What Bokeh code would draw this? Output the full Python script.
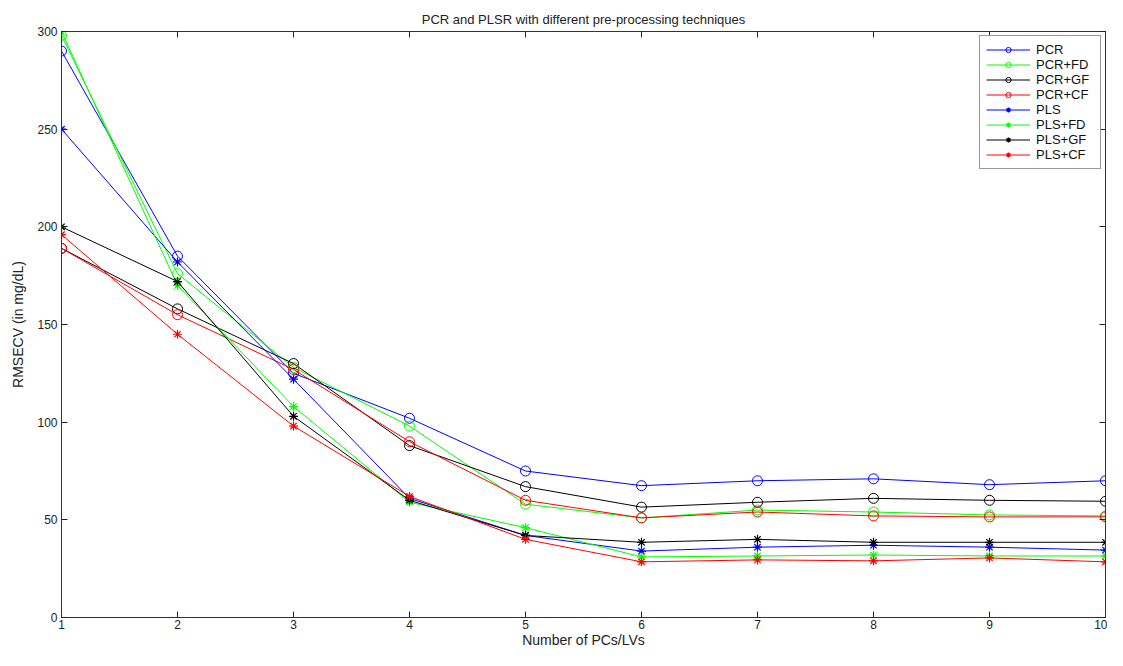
from bokeh.plotting import figure
from bokeh.models import Legend, LegendItem, LinearAxis, FixedTicker, Range1d, CustomJSTickFormatter
from bokeh.embed import file_html
from bokeh.resources import INLINE

components = [1, 2, 3, 4, 5, 6, 7, 8, 9, 10]

pcr    = [290, 185, 125, 102, 75, 67.5, 70, 71, 68, 70]
pcr_fd = [298, 176, 128, 98, 58, 51, 55, 54, 52.5, 52]
pcr_gf = [189, 158, 130, 88, 67, 56.5, 59, 61, 60, 59.5]
pcr_cf = [189, 155, 127, 90, 60, 51, 54, 52, 51.5, 51.5]
pls    = [250, 182, 122, 61, 42, 34, 36, 37, 36, 34.5]
pls_fd = [300, 170, 108, 59, 46, 31, 31.5, 32, 31.5, 31.5]
pls_gf = [200, 172, 103, 60, 42, 38.5, 40, 38.5, 38.5, 38.5]
pls_cf = [196, 145, 98, 62, 40, 28.5, 29.5, 29, 30.5, 28.5]

series = [
    ("PCR", pcr, "#0000FF", "circle"),
    ("PCR+FD", pcr_fd, "#00FF00", "circle"),
    ("PCR+GF", pcr_gf, "#000000", "circle"),
    ("PCR+CF", pcr_cf, "#FF0000", "circle"),
    ("PLS", pls, "#0000FF", "asterisk"),
    ("PLS+FD", pls_fd, "#00FF00", "asterisk"),
    ("PLS+GF", pls_gf, "#000000", "asterisk"),
    ("PLS+CF", pls_cf, "#FF0000", "asterisk"),
]

x_ticks = [1, 2, 3, 4, 5, 6, 7, 8, 9, 10]
y_ticks = [0, 50, 100, 150, 200, 250, 300]

FONT = "Liberation Sans"

p = figure(width=1107, height=650, output_backend="svg", toolbar_location=None,
           x_range=Range1d(1, 10), y_range=Range1d(0, 300),
           min_border_left=61, min_border_right=2, min_border_top=31, min_border_bottom=30)
p.title.text = "PCR and PLSR with different pre-processing techniques"
p.title.align = "center"
p.title.text_font = FONT
p.title.text_font_size = "13px"
p.title.text_font_style = "normal"
p.title.text_color = "#222222"

p.xgrid.visible = False
p.ygrid.visible = False
p.outline_line_color = "#333333"
p.outline_line_width = 1

for ax in (p.xaxis[0], p.yaxis[0]):
    ax.major_tick_in = 6
    ax.major_tick_out = 0
    ax.minor_tick_in = 0
    ax.minor_tick_out = 0
    ax.axis_line_color = "#333333"
    ax.major_tick_line_color = "#222222"
    ax.major_label_text_font = FONT
    ax.major_label_text_font_size = "12px"
    ax.major_label_text_color = "#222222"
    ax.axis_label_text_font = FONT
    ax.axis_label_text_font_size = "14px"
    ax.axis_label_text_font_style = "normal"
    ax.axis_label_text_color = "#222222"

p.xaxis[0].ticker = FixedTicker(ticks=x_ticks)
p.yaxis[0].ticker = FixedTicker(ticks=y_ticks)
p.xaxis[0].axis_label = "Number of PCs/LVs"
p.yaxis[0].axis_label = "RMSECV (in mg/dL)"
p.xaxis[0].major_label_standoff = 2
p.xaxis[0].axis_label_standoff = 0
p.yaxis[0].major_label_standoff = 4
p.yaxis[0].axis_label_standoff = 8

blank = CustomJSTickFormatter(code="return '';")
top_ax = LinearAxis(ticker=FixedTicker(ticks=x_ticks), major_tick_in=6, major_tick_out=0,
                    minor_tick_in=0, minor_tick_out=0, formatter=blank,
                    major_label_standoff=0,
                    axis_line_color="#333333", major_tick_line_color="#222222")
right_ax = LinearAxis(ticker=FixedTicker(ticks=y_ticks), major_tick_in=6, major_tick_out=0,
                      minor_tick_in=0, minor_tick_out=0, formatter=blank,
                      major_label_standoff=0,
                      axis_line_color="#333333", major_tick_line_color="#222222")
p.add_layout(top_ax, "above")
p.add_layout(right_ax, "right")

items = []
for name, vals, color, marker in series:
    lr = p.line(components, vals, line_color=color, line_width=1)
    if marker == "circle":
        sr = p.scatter(components, vals, marker="circle", size=10, fill_color=None,
                       line_color=color, line_width=1)
    else:
        sr = p.scatter(components, vals, marker="asterisk", size=9,
                       line_color=color, line_width=1.2)
    items.append(LegendItem(label=name, renderers=[lr, sr]))

legend = Legend(items=items, location="top_right")
legend.label_text_font = FONT
legend.label_text_font_size = "13px"
legend.label_text_color = "#111111"
legend.label_height = 13
legend.label_width = 58
legend.glyph_height = 13
legend.glyph_width = 44
legend.label_standoff = 6
legend.spacing = 0
legend.padding = 6
legend.margin = 4
legend.border_line_color = "#333333"
legend.border_line_width = 1
legend.background_fill_alpha = 1
p.add_layout(legend)

open("out.html", "w").write(file_html(p, INLINE))
